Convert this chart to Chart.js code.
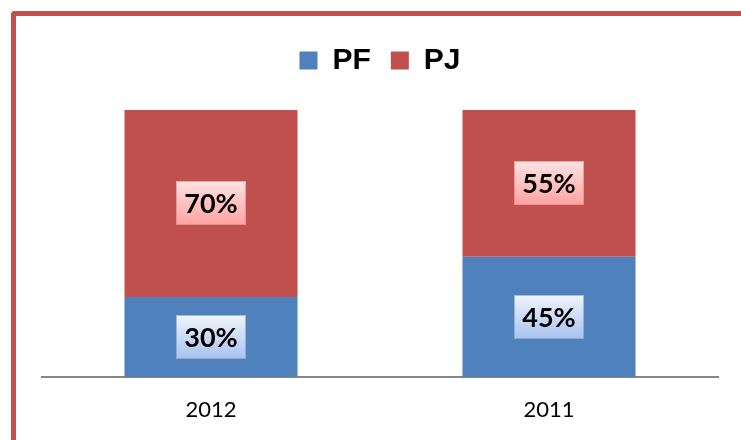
<!DOCTYPE html>
<html>
<head>
<meta charset="utf-8">
<script src="https://cdn.jsdelivr.net/npm/chart.js@4/dist/chart.umd.min.js"></script>
<style>
  html, body { margin: 0; padding: 0; background: #fff; }
  #wrap { position: relative; width: 741px; height: 440px; overflow: hidden; }
  #frame {
    position: absolute; left: 11px; top: 11px; width: 800px; height: 500px;
    border-left: 5px solid #C0504D; border-top: 5px solid #C0504D;
    border-top-left-radius: 4px; pointer-events: none;
  }
</style>
</head>
<body>
<div id="wrap">
  <canvas id="chart" width="741" height="440"></canvas>
  <div id="frame"></div>
</div>
<script>
const categories = ['2012', '2011'];
const pfValues = [30, 45];
const pjValues = [70, 55];

const BLUE = '#4F81BD';
const RED = '#C0504D';

// extra space under the legend (legend.fit has no option for it)
const legendSpacer = {
    id: 'legendSpacer',
    beforeInit(chart) {
        const origFit = chart.legend.fit;
        chart.legend.fit = function() {
            origFit.bind(chart.legend)();
            this.height += 24.5;
        };
    }
};

// percentage labels in gradient boxes
const boxLabels = {
    id: 'boxLabels',
    afterDatasetsDraw(chart) {
        const ctx = chart.ctx;
        const styles = [
            { top: '#F0F4FD', bottom: '#A8C2EE', edge: 'rgba(120,150,200,0.6)' },
            { top: '#FFE2E2', bottom: '#FFA2A2', edge: 'rgba(220,130,130,0.6)' }
        ];
        chart.data.datasets.forEach(function(ds, di) {
            const meta = chart.getDatasetMeta(di);
            meta.data.forEach(function(bar, i) {
                const cx = bar.x;
                const cy = (bar.y + bar.base) / 2;
                const w = 70, h = 44;
                const x0 = Math.round(cx - w / 2), y0 = Math.round(cy - h / 2);
                const g = ctx.createLinearGradient(0, y0, 0, y0 + h);
                g.addColorStop(0, styles[di].top);
                g.addColorStop(1, styles[di].bottom);
                ctx.save();
                ctx.fillStyle = g;
                ctx.fillRect(x0, y0, w, h);
                ctx.strokeStyle = styles[di].edge;
                ctx.lineWidth = 1;
                ctx.strokeRect(x0 + 0.5, y0 + 0.5, w - 1, h - 1);
                ctx.fillStyle = '#000';
                ctx.font = 'bold 27px Lato';
                ctx.textAlign = 'center';
                ctx.textBaseline = 'middle';
                ctx.fillText(ds.data[i] + '%', cx, cy + 1);
                ctx.restore();
            });
        });
    }
};

Chart.defaults.color = '#000';

new Chart(document.getElementById('chart'), {
    type: 'bar',
    data: {
        labels: categories,
        datasets: [{
            label: 'PF',
            data: pfValues,
            backgroundColor: BLUE,
            borderWidth: 0,
            categoryPercentage: 1,
            barPercentage: 0.512
        }, {
            label: 'PJ',
            data: pjValues,
            backgroundColor: RED,
            borderWidth: 0,
            categoryPercentage: 1,
            barPercentage: 0.512
        }]
    },
    options: {
        responsive: false,
        animation: false,
        layout: {
            padding: { left: 42, right: 23, top: 25.5, bottom: 0 }
        },
        plugins: {
            legend: {
                position: 'top',
                labels: {
                    boxWidth: 18,
                    boxHeight: 18,
                    padding: 20,
                    color: '#000',
                    font: { family: 'Liberation Sans', size: 30, weight: 'bold' }
                }
            },
            tooltip: { enabled: false }
        },
        scales: {
            x: {
                stacked: true,
                grid: { display: false, drawTicks: false },
                border: { display: true, color: '#868686', width: 2 },
                ticks: {
                    padding: 20,
                    color: '#000',
                    font: { family: 'Lato', size: 22 }
                },
                afterFit(scale) {
                    scale.height = 63;
                }
            },
            y: {
                stacked: true,
                display: false,
                min: 0,
                max: 100
            }
        }
    },
    plugins: [legendSpacer, boxLabels]
});
</script>
</body>
</html>
